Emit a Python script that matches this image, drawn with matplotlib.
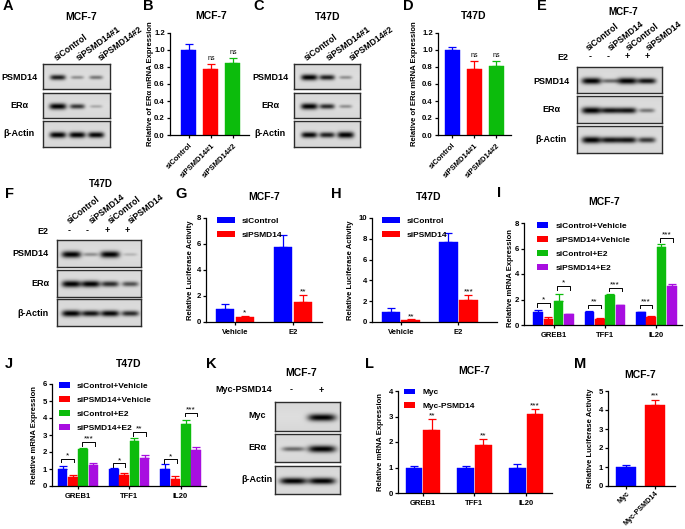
import numpy as np
import matplotlib
matplotlib.use("Agg")
import matplotlib.pyplot as plt

plt.rcParams['font.family'] = ['Liberation Sans', 'DejaVu Sans']
plt.rcParams['font.weight'] = 'bold'
plt.rcParams['axes.linewidth'] = 0.9

W, H = 685, 529
BLUE, RED, GREEN, PURPLE = '#0000ff', '#ff0000', '#0cbc0c', '#a80ee0'

# bar data
three_si = ['siControl', 'siPSMD14#1', 'siPSMD14#2']
two_si = ['siControl', 'siPSMD14']
four_si = ['siControl+Vehicle', 'siPSMD14+Vehicle', 'siControl+E2', 'siPSMD14+E2']
genes = ['GREB1', 'TFF1', 'IL20']
veh_e2 = ['Vehicle', 'E2']

b_vals = [1.0, 0.78, 0.85]
b_errs = [0.065, 0.055, 0.055]
d_vals = [1.0, 0.78, 0.815]
d_errs = [0.03, 0.095, 0.05]

g_vals = [[1.0, 5.75], [0.38, 1.55]]
g_errs = [[0.37, 0.97], [0.07, 0.52]]
g_sig = ['*', '**']
h_vals = [[1.0, 7.7], [0.18, 2.15]]
h_errs = [[0.3, 0.85], [0.07, 0.45]]
h_sig = ['**', '***']

i_vals = [[1.0, 1.0, 1.0], [0.47, 0.47, 0.62], [1.85, 2.33, 6.1], [0.83, 1.55, 3.05]]
i_errs = [[0.2, 0.1, 0.05], [0.18, 0.1, 0.05], [0.62, 0.13, 0.28], [0.05, 0.05, 0.2]]
i_left = [(1.7, '*'), (1.6, '**'), (1.6, '***')]
i_right = [(3.05, '*'), (2.92, '***'), (6.8, '***')]

j_vals = [[1.0, 1.0, 1.0], [0.52, 0.62, 0.42], [2.15, 2.65, 3.65], [1.23, 1.63, 2.1]]
j_errs = [[0.17, 0.03, 0.28], [0.1, 0.15, 0.15], [0.08, 0.17, 0.22], [0.12, 0.18, 0.17]]
j_left = [(1.6, '*'), (1.33, '*'), (1.56, '*')]
j_right = [(2.58, '***'), (3.18, '**'), (4.3, '***')]

l_vals = [[1.0, 1.0, 1.0], [2.47, 1.88, 3.1]]
l_errs = [[0.06, 0.06, 0.13], [0.42, 0.24, 0.19]]
l_sig = ['**', '**', '***']

m_labels = ['Myc', 'Myc-PSMD14']
m_vals = [1.0, 4.27]
m_errs = [0.1, 0.28]

# blot band strengths, one row per protein, one value per lane
blot_a = [[0.75, 0.3, 0.4], [1.0, 0.65, 0.2], [0.9, 0.9, 0.85]]
blot_c = [[0.95, 0.75, 0.3], [1.0, 0.7, 0.3], [0.85, 0.75, 1.0]]
blot_e = [[1.0, 0.45, 1.0, 0.8], [1.0, 0.8, 0.8, 0.4], [0.95, 0.8, 0.8, 0.65]]
blot_f = [[1.0, 0.3, 1.0, 0.15], [0.95, 0.9, 0.7, 0.55], [0.95, 0.8, 0.85, 0.7]]
blot_k = [[0.0, 1.0], [0.45, 1.0], [0.9, 0.9]]

fig = plt.figure(figsize=(W / 100, H / 100), dpi=100)


def px_axes(x0, y0, x1, y1):
    # pixel box, y measured from the top of the image
    return fig.add_axes([x0 / W, 1 - y1 / H, (x1 - x0) / W, (y1 - y0) / H])


def label(x, y, s, size=6.5, **kw):
    kw.setdefault('ha', 'center')
    kw.setdefault('va', 'center')
    fig.text(x / W, 1 - y / H, s, fontsize=size, **kw)


def base_axes(box, xlim, ymax, yticks, ylabel, ylab_x, ylab_y, title, title_xy, fmt=None):
    ax = px_axes(*box)
    ax.set_xlim(*xlim)
    ax.set_ylim(0, ymax)
    ax.set_yticks(yticks)
    if fmt:
        ax.set_yticklabels([fmt % t for t in yticks])
    ax.spines['top'].set_visible(False)
    ax.spines['right'].set_visible(False)
    ax.tick_params(length=2.2, width=0.9, labelsize=5.6, pad=1.5)
    ax.tick_params(axis='x', pad=3)
    label(ylab_x, ylab_y, ylabel, size=5.5, rotation=90)
    label(title_xy[0], title_xy[1], title, size=7.5)
    return ax


def bars(ax, x, vals, errs, color, width):
    ax.bar(x, vals, width, color=color, edgecolor=color, linewidth=0.3)
    ax.errorbar(x, vals, yerr=[np.zeros(len(errs)), errs], fmt='none', ecolor=color,
                elinewidth=0.9, capsize=2.6, capthick=0.9)


def top_legend(ax, handles, names, left, top, hlen):
    ax.legend(handles, names, loc='upper left', bbox_to_anchor=(left / W, 1 - top / H),
              bbox_transform=fig.transFigure, frameon=False, fontsize=6, borderpad=0,
              borderaxespad=0, labelspacing=0.72, handlelength=hlen, handleheight=0.72,
              handletextpad=0.85)


def single_panel(box, xlim, names, vals, errs, colors, sig, ymax, yticks, ylabel,
                 ylab_x, ylab_y, title, title_xy, fmt=None, sig_gap=0.02):
    ax = base_axes(box, xlim, ymax, yticks, ylabel, ylab_x, ylab_y, title, title_xy, fmt)
    x = np.arange(len(vals))
    for i in x:
        bars(ax, [i], [vals[i]], [errs[i]], colors[i], 0.68)
    for i, s in enumerate(sig):
        if s:
            ax.text(i, vals[i] + errs[i] + sig_gap * ymax, s, ha='center', va='bottom',
                    fontsize=5, fontweight='normal')
    ax.set_xticks(x)
    ax.set_xticklabels(names, rotation=45, ha='right', rotation_mode='anchor', fontsize=5.5)
    return ax


def two_group_panel(box, xlim, names, vals, errs, sig, ymax, yticks, ylabel, ylab_x, ylab_y,
                    title, title_xy, legend_xy, hlen, legend_names=two_si):
    ax = base_axes(box, xlim, ymax, yticks, ylabel, ylab_x, ylab_y, title, title_xy)
    x = np.arange(len(names))
    h1 = ax.bar(x - 0.172, vals[0], 0.32, color=BLUE)
    h2 = ax.bar(x + 0.172, vals[1], 0.32, color=RED)
    bars(ax, x - 0.172, vals[0], errs[0], BLUE, 0.32)
    bars(ax, x + 0.172, vals[1], errs[1], RED, 0.32)
    for i, s in enumerate(sig):
        ax.text(i + 0.172, vals[1][i] + errs[1][i] - 0.005 * ymax, s, ha='center', va='bottom',
                fontsize=6, fontweight='normal')
    ax.set_xticks(x)
    ax.set_xticklabels(names, fontsize=5.5)
    top_legend(ax, [h1, h2], legend_names, legend_xy[0], legend_xy[1], hlen)
    return ax


def four_group_panel(box, xlim, vals, errs, left, right, ymax, yticks, ylab_x, ylab_y,
                     title, title_xy, legend_xy):
    ax = base_axes(box, xlim, ymax, yticks, 'Relative mRNA Expression', ylab_x, ylab_y,
                   title, title_xy)
    x = np.arange(len(genes))
    step = 0.2
    handles = []
    for k, c in enumerate([BLUE, RED, GREEN, PURPLE]):
        pos = x + (k - 1.5) * step
        handles.append(ax.bar(pos, vals[k], 0.186, color=c))
        bars(ax, pos, vals[k], errs[k], c, 0.186)
    tick = 0.035 * ymax
    for i in x:
        for (yb, s), mid in ((left[i], i - step), (right[i], i + step)):
            ax.plot([mid - 0.62 * step, mid - 0.62 * step, mid + 0.62 * step, mid + 0.62 * step],
                    [yb - tick, yb, yb, yb - tick], color='black', lw=0.7, clip_on=False)
            ax.text(mid, yb - 0.005 * ymax, s, ha='center', va='bottom', fontsize=6,
                    fontweight='normal')
    ax.set_xticks(x)
    ax.set_xticklabels(genes, fontsize=5.5)
    top_legend(ax, handles, four_si, legend_xy[0], legend_xy[1], 1.35)
    return ax


def blot(box, strengths, lanes, band_w, y_frac=0.53):
    ax = px_axes(*box)
    h, w = int((box[3] - box[1]) * 3), int((box[2] - box[0]) * 3)
    yy, xx = np.mgrid[0:h, 0:w]
    xx = xx / w
    yy = yy / h
    img = np.full((h, w), 0.87) - 0.05 * np.abs(yy - 0.5)
    for lane, s in zip(lanes, strengths):
        sig_y = 0.05 + 0.075 * s
        shape = np.exp(-((xx - lane) / (band_w * (0.38 + 0.2 * s))) ** 4)
        shape = shape * np.exp(-((yy - y_frac) / sig_y) ** 2)
        img = img - 0.87 * min(s * 1.15, 1) * shape
    ax.imshow(np.clip(img, 0, 1), cmap='gray', vmin=0, vmax=1, aspect='auto')
    ax.set_xticks([])
    ax.set_yticks([])
    for sp in ax.spines.values():
        sp.set_color('#2c2c2c')
        sp.set_linewidth(1.0)


def blot_panel(x0, x1, rows, strengths, lanes, band_w):
    for (y0, y1), st in zip(rows, strengths):
        blot((x0, y0, x1, y1), st, lanes, band_w)


def lane_labels(names, xs, y, angle=36, size=6.3):
    for n, x in zip(names, xs):
        label(x, y, n, size=size, rotation=angle, ha='left', va='baseline', rotation_mode='anchor')


# panel letters
for s, x, y in [('A', 3, 6), ('B', 143, 6), ('C', 253, 6), ('D', 403, 6), ('E', 537, 6),
                ('F', 5, 194), ('G', 175, 194), ('H', 331, 194), ('I', 497, 193),
                ('J', 5, 364), ('K', 206, 364), ('L', 365, 364), ('M', 574, 364)]:
    label(x, y, s, size=10.5, ha='left')

# A
blot_panel(43, 110, [(64, 89), (93, 118), (121, 147)], blot_a, [0.22, 0.51, 0.79], 0.22)
label(81, 17, 'MCF-7', size=7.5)
lane_labels(three_si, [57, 79, 101], 61)
for s, y in [('PSMD14', 78), ('ER\u03b1', 106), ('\u03b2-Actin', 134)]:
    label(19, y, s)

# C
blot_panel(294, 360, [(64, 89), (93, 118), (121, 147)], blot_c, [0.23, 0.5, 0.78], 0.22)
label(328, 17, 'T47D', size=7.5)
lane_labels(three_si, [307, 329, 352], 61)
for s, y in [('PSMD14', 78), ('ER\u03b1', 106), ('\u03b2-Actin', 134)]:
    label(270, y, s)

# E
blot_panel(577, 662, [(67, 93), (96, 123), (126, 153)], blot_e, [0.17, 0.39, 0.59, 0.82], 0.2)
label(623, 12, 'MCF-7', size=7)
lane_labels(two_si + two_si, [589, 611, 629, 649], 51, angle=38)
label(563, 57, 'E2')
for s, x in zip(['-', '-', '+', '+'], [590, 608, 627, 647]):
    label(x, 57, s)
for s, y in [('PSMD14', 81), ('ER\u03b1', 109), ('\u03b2-Actin', 139)]:
    label(551, y, s)

# F
blot_panel(57, 141, [(240, 267), (270, 297), (299, 326)], blot_f, [0.17, 0.4, 0.63, 0.87], 0.2)
label(101, 184, 'T47D', size=7)
lane_labels(two_si + two_si, [70, 92, 111, 131], 224, angle=38)
label(43, 231, 'E2')
for s, x in zip(['-', '-', '+', '+'], [69, 87, 107, 127]):
    label(x, 231, s)
for s, y in [('PSMD14', 254), ('ER\u03b1', 283), ('\u03b2-Actin', 313)]:
    label(49, y, s, ha='right')

# K
blot_panel(275, 340, [(402, 431), (434, 462), (466, 494)], blot_k, [0.28, 0.72], 0.37)
label(301, 373, 'MCF-7', size=7.5)
label(244, 390, 'Myc-PSMD14')
label(291, 390, '-')
label(321, 390, '+')
for s, y in [('Myc', 416), ('ER\u03b1', 447), ('\u03b2-Actin', 479)]:
    label(257, y, s)

# B, D
colors3 = [BLUE, RED, GREEN]
yt = [0.0, 0.2, 0.4, 0.6, 0.8, 1.0, 1.2]
single_panel((170, 33, 249, 135), (-0.86, 2.73), three_si, b_vals, b_errs, colors3,
             ['', 'ns', 'ns'], 1.2, yt, 'Relative of ER\u03b1 mRNA Expression', 151, 84,
             'MCF-7', (211, 16), '%.1f')
single_panel((438, 33, 511, 135), (-0.64, 2.68), three_si, d_vals, d_errs, colors3,
             ['', 'ns', 'ns'], 1.2, yt, 'Relative of ER\u03b1 mRNA Expression', 414, 84,
             'T47D', (474, 16), '%.1f')

# G, H
two_group_panel((206, 218, 322, 322), (-0.5, 1.5), veh_e2, g_vals, g_errs, g_sig, 8,
                [0, 2, 4, 6, 8], 'Relative Luciferase Activity', 190, 270, 'MCF-7', (264, 197),
                (216.7, 217), 2.2)
two_group_panel((372, 218, 497, 322), (-0.5, 1.67), veh_e2, h_vals, h_errs, h_sig, 10,
                [0, 2, 4, 6, 8, 10], 'Relative Luciferase Activity', 350, 270, 'T47D', (429, 197),
                (381.7, 217), 2.2)

# I, J
four_group_panel((524, 223, 682, 325), (-0.574, 2.5), i_vals, i_errs, i_left, i_right, 8,
                 [0, 2, 4, 6, 8], 511, 278, 'MCF-7', (604, 202), (537, 222))
four_group_panel((52, 384, 206, 486), (-0.507, 2.495), j_vals, j_errs, j_left, j_right, 6,
                 [0, 1, 2, 3, 4, 5, 6], 35, 435, 'T47D', (129, 364), (58.7, 382))

# L
two_group_panel((398, 391, 552, 493), (-0.48, 2.5), genes, l_vals, l_errs, l_sig, 4,
                [0, 1, 2, 3, 4], 'Relative mRNA Expression', 380, 442, 'MCF-7', (474, 371),
                (403.7, 388.5), 1.35, legend_names=['Myc', 'Myc-PSMD14'])

# M
ax_m = single_panel((608, 391, 675, 486), (-0.63, 1.68), m_labels, m_vals, m_errs, [BLUE, RED],
                    ['', '***'], 5, [0, 1, 2, 3, 4, 5], 'Relative Luciferase Activity', 590, 438,
                    'MCF-7', (640, 375), None, sig_gap=0.005)
ax_m.tick_params(axis='x', pad=0.5)
ax_m.set_xticklabels(m_labels, rotation=45, ha='right', rotation_mode='anchor', fontsize=5.2)

fig.savefig('out.png', dpi=100)
